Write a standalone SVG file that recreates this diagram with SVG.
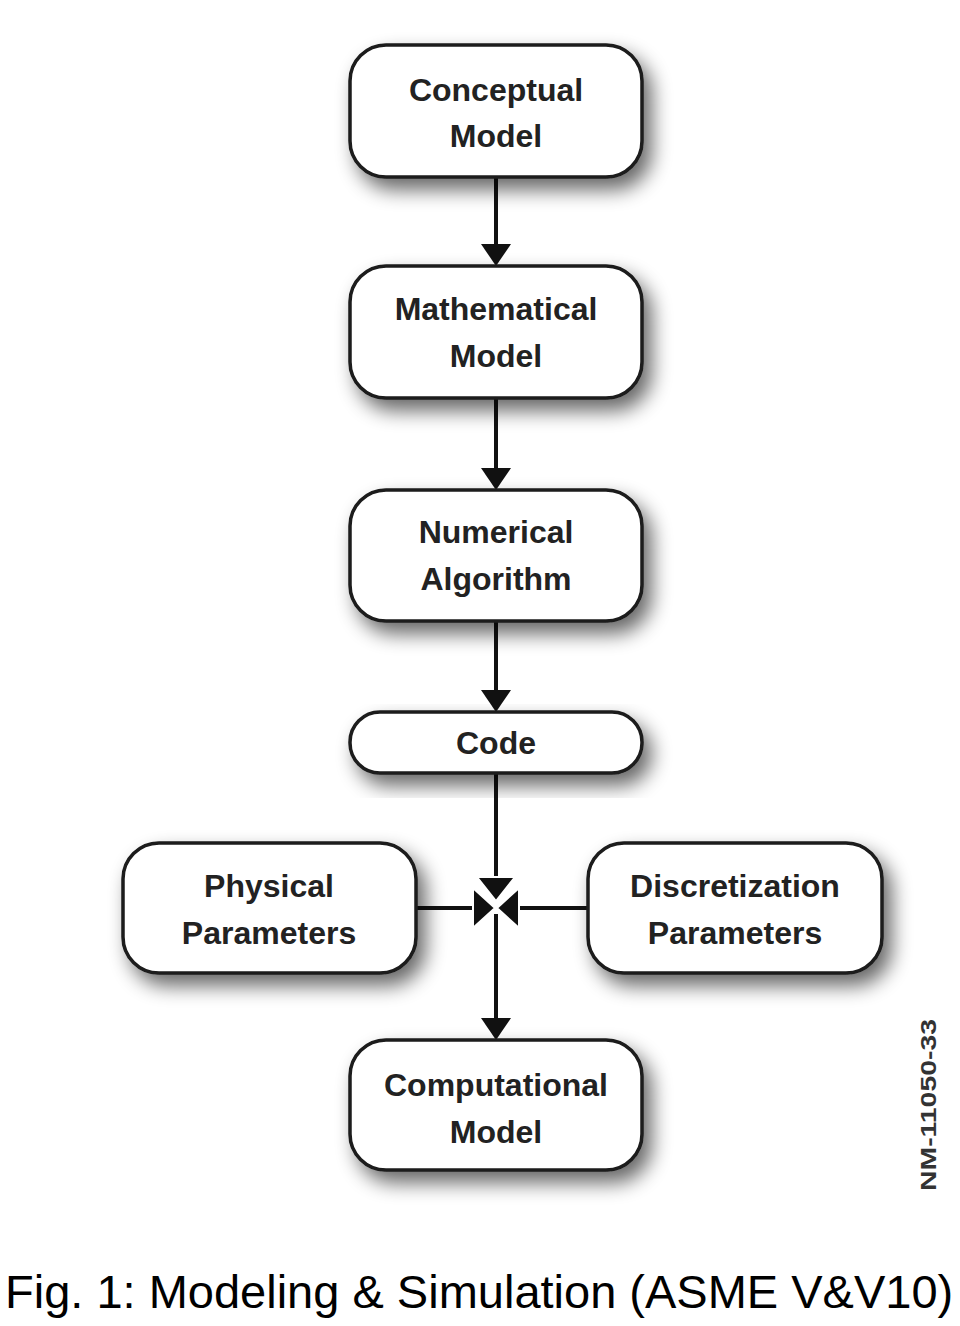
<svg xmlns="http://www.w3.org/2000/svg" width="960" height="1326" viewBox="0 0 960 1326">
<style>
.box{fill:#fff;stroke:#1a1a1a;stroke-width:3.5;filter:url(#sh)}
.lbl{font-family:"Liberation Sans",Arial,sans-serif;font-weight:bold;font-size:32px;fill:#222;text-anchor:middle}
.ln{stroke:#111;stroke-width:4;fill:none}
.hd{fill:#111}
.jh{fill:#111;stroke:#fff;stroke-width:2}
</style>
<defs>
<filter id="sh" x="-20%" y="-30%" width="150%" height="170%">
<feGaussianBlur in="SourceAlpha" stdDeviation="10"/>
<feOffset dx="8" dy="11" result="b"/>
<feComponentTransfer><feFuncA type="linear" slope="0.6"/></feComponentTransfer>
<feMerge><feMergeNode/><feMergeNode in="SourceGraphic"/></feMerge>
</filter>
</defs>
<rect width="960" height="1326" fill="#fff"/>
<g id="connectors">
<line class="ln" x1="496" y1="177" x2="496" y2="248"/>
<polygon class="hd" points="481,244 511,244 496,266"/>
<line class="ln" x1="496" y1="398" x2="496" y2="472"/>
<polygon class="hd" points="481,468 511,468 496,490"/>
<line class="ln" x1="496" y1="621" x2="496" y2="694"/>
<polygon class="hd" points="481,690 511,690 496,712"/>
<line class="ln" x1="496" y1="773" x2="496" y2="880"/>
<line class="ln" x1="496" y1="914" x2="496" y2="1022"/>
<polygon class="hd" points="481,1018 511,1018 496,1040"/>
<line class="ln" x1="416" y1="908" x2="474" y2="908"/>
<line class="ln" x1="518" y1="908" x2="588" y2="908"/>
<polygon class="jh" points="477,877 515,877 496,901"/>
<polygon class="jh" points="473,888 473,928 495,908"/>
<polygon class="jh" points="519,888 519,928 497,908"/>
</g>
<g id="conceptual">
<rect class="box" x="350" y="45" width="292" height="132" rx="36"/>
<text class="lbl" x="496" y="101">Conceptual</text>
<text class="lbl" x="496" y="147">Model</text>
</g>
<g id="mathematical">
<rect class="box" x="350" y="266" width="292" height="132" rx="36"/>
<text class="lbl" x="496" y="320">Mathematical</text>
<text class="lbl" x="496" y="367">Model</text>
</g>
<g id="numerical">
<rect class="box" x="350" y="490" width="292" height="131" rx="36"/>
<text class="lbl" x="496" y="543">Numerical</text>
<text class="lbl" x="496" y="590">Algorithm</text>
</g>
<g id="code">
<rect class="box" x="350" y="712" width="292" height="61" rx="30"/>
<text class="lbl" x="496" y="754">Code</text>
</g>
<g id="physical">
<rect class="box" x="123" y="843" width="293" height="130" rx="36"/>
<text class="lbl" x="269" y="897">Physical</text>
<text class="lbl" x="269" y="944">Parameters</text>
</g>
<g id="discretization">
<rect class="box" x="588" y="843" width="294" height="130" rx="36"/>
<text class="lbl" x="735" y="897">Discretization</text>
<text class="lbl" x="735" y="944">Parameters</text>
</g>
<g id="computational">
<rect class="box" x="350" y="1040" width="292" height="130" rx="36"/>
<text class="lbl" x="496" y="1096">Computational</text>
<text class="lbl" x="496" y="1143">Model</text>
</g>
<text x="0" y="0" transform="translate(936,1105) rotate(-90)" font-family="'Liberation Sans',Arial,sans-serif" font-weight="bold" font-size="22" fill="#333" text-anchor="middle" textLength="172" lengthAdjust="spacingAndGlyphs">NM-11050-33</text>
<text x="5" y="1308" font-family="'Liberation Sans',Arial,sans-serif" font-size="47" fill="#000">Fig. 1: Modeling &amp; Simulation (ASME V&amp;V10)</text>
</svg>
